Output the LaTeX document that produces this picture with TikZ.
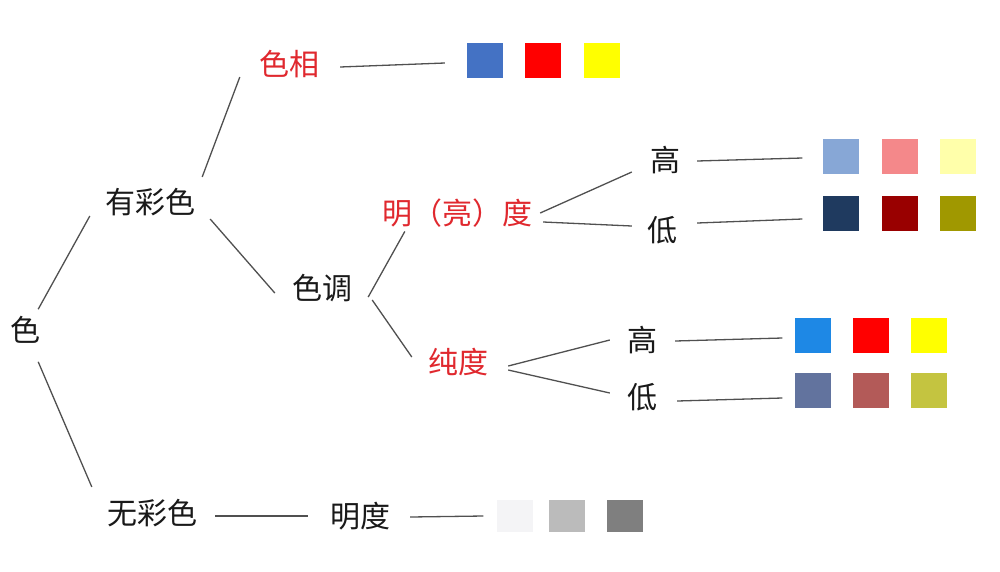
\documentclass[tikz,border=0pt]{standalone}
\usepackage{fontspec}
\usepackage{xcolor}
\usepackage{tikz}
\usetikzlibrary{positioning}
\newfontfamily\cjk{Noto Sans CJK SC}
\definecolor{hl}{HTML}{E0282E}
\definecolor{linegray}{HTML}{505050}

\begin{document}
\begin{tikzpicture}[x=1pt, y=-1pt,
    term/.style={font=\cjk\fontsize{30}{36}\selectfont, text=black!90, inner sep=0pt},
    keyterm/.style={term, text=hl},
    swatch/.style={rectangle, minimum width=36pt, minimum height=35pt, inner sep=0pt},
    link/.style={draw=linegray, line width=1.3pt}]

    \fill[white] (0,0) rectangle (1000,571);
    \useasboundingbox (0,0) rectangle (1000,571);

    % terms
    \node [term] (se) at (25,330) {色};
    \node [term] (ycs) at (150,202) {有彩色};
    \node [term] (wcs) at (152,513) {无彩色};
    \node [keyterm] (sx) at (289,64) {色相};
    \node [term] (sd) at (322,288) {色调};
    \node [keyterm] (mld) at (457,213) {明（亮）度};
    \node [keyterm] (cd) at (458,362) {纯度};
    \node [term] (mgao) at (665,160) {高};
    \node [term] (mdi) at (662,230) {低};
    \node [term] (cgao) at (642,340) {高};
    \node [term] (cdi) at (642,397) {低};
    \node [term] (md) at (360,516) {明度};

    % swatches
    \node [swatch, fill={rgb,255:red,68;green,114;blue,196}] (hue1) at (485,60.5) {};
    \node [swatch, fill={rgb,255:red,255;green,0;blue,0}] (hue2) at (543,60.5) {};
    \node [swatch, fill={rgb,255:red,255;green,255;blue,0}] (hue3) at (602,60.5) {};

    \node [swatch, fill={rgb,255:red,135;green,167;blue,214}] (light1) at (840.5,156) {};
    \node [swatch, fill={rgb,255:red,244;green,136;blue,138}] (light2) at (899.5,156) {};
    \node [swatch, fill={rgb,255:red,255;green,255;blue,170}] (light3) at (958,156) {};

    \node [swatch, fill={rgb,255:red,31;green,58;blue,95}] (dark1) at (840.5,213.5) {};
    \node [swatch, fill={rgb,255:red,153;green,0;blue,0}] (dark2) at (899.5,213.5) {};
    \node [swatch, fill={rgb,255:red,160;green,152;blue,0}] (dark3) at (958,213.5) {};

    \node [swatch, fill={rgb,255:red,30;green,136;blue,229}] (vivid1) at (812.5,335.5) {};
    \node [swatch, fill={rgb,255:red,255;green,0;blue,0}] (vivid2) at (870.5,335.5) {};
    \node [swatch, fill={rgb,255:red,255;green,255;blue,0}] (vivid3) at (928.5,335.5) {};

    \node [swatch, fill={rgb,255:red,98;green,115;blue,158}] (dull1) at (812.5,390.5) {};
    \node [swatch, fill={rgb,255:red,179;green,90;blue,88}] (dull2) at (870.5,390.5) {};
    \node [swatch, fill={rgb,255:red,196;green,196;blue,64}] (dull3) at (928.5,390.5) {};

    \node [swatch, minimum height=32pt, fill={rgb,255:red,244;green,244;blue,246}] (gray1) at (514.5,516) {};
    \node [swatch, minimum height=32pt, fill={rgb,255:red,187;green,187;blue,187}] (gray2) at (567,516) {};
    \node [swatch, minimum height=32pt, fill={rgb,255:red,127;green,127;blue,127}] (gray3) at (624.5,516) {};

    % connectors
    \path [link] ([shift={(-2,-7)}]se.north east) -- ([shift={(-15,0)}]ycs.south west);
    \path [link] ([shift={(-2,18)}]se.south east) -- ([shift={(-15,-12)}]wcs.north west);
    \path [link] ([shift={(7,-11)}]ycs.north east) -- ([shift={(-19,-1)}]sx.south west);
    \path [link] ([shift={(15,3)}]ycs.south east) -- ([shift={(-17,5)}]sd.west);
    \path [link] ([shift={(21,3)}]sx.east) -- ([shift={(-22,2.5)}]hue1.west);
    \path [link] ([shift={(16,9)}]sd.east) -- ([shift={(23,4)}]mld.south west);
    \path [link] ([shift={(20,12)}]sd.east) -- ([shift={(-16,-5)}]cd.west);
    \path [link] ([shift={(8,0)}]mld.east) -- ([shift={(-18,12)}]mgao.west);
    \path [link] ([shift={(11,9)}]mld.east) -- ([shift={(-15,-4)}]mdi.west);
    \path [link] ([shift={(17,1)}]mgao.east) -- ([shift={(-20,2)}]light1.west);
    \path [link] ([shift={(20,-7)}]mdi.east) -- ([shift={(-20,5.5)}]dark1.west);
    \path [link] ([shift={(20,4)}]cd.east) -- ([shift={(-17,0)}]cgao.west);
    \path [link] ([shift={(20,8)}]cd.east) -- ([shift={(-17,-4)}]cdi.west);
    \path [link] ([shift={(18,1)}]cgao.east) -- ([shift={(-12,2.5)}]vivid1.west);
    \path [link] ([shift={(20,4)}]cdi.east) -- ([shift={(-12,7.5)}]dull1.west);
    \path [link] ([shift={(18,3)}]wcs.east) -- ([shift={(-22,0)}]md.west);
    \path [link] ([shift={(20,1)}]md.east) -- ([shift={(-13,0)}]gray1.west);
\end{tikzpicture}
\end{document}
